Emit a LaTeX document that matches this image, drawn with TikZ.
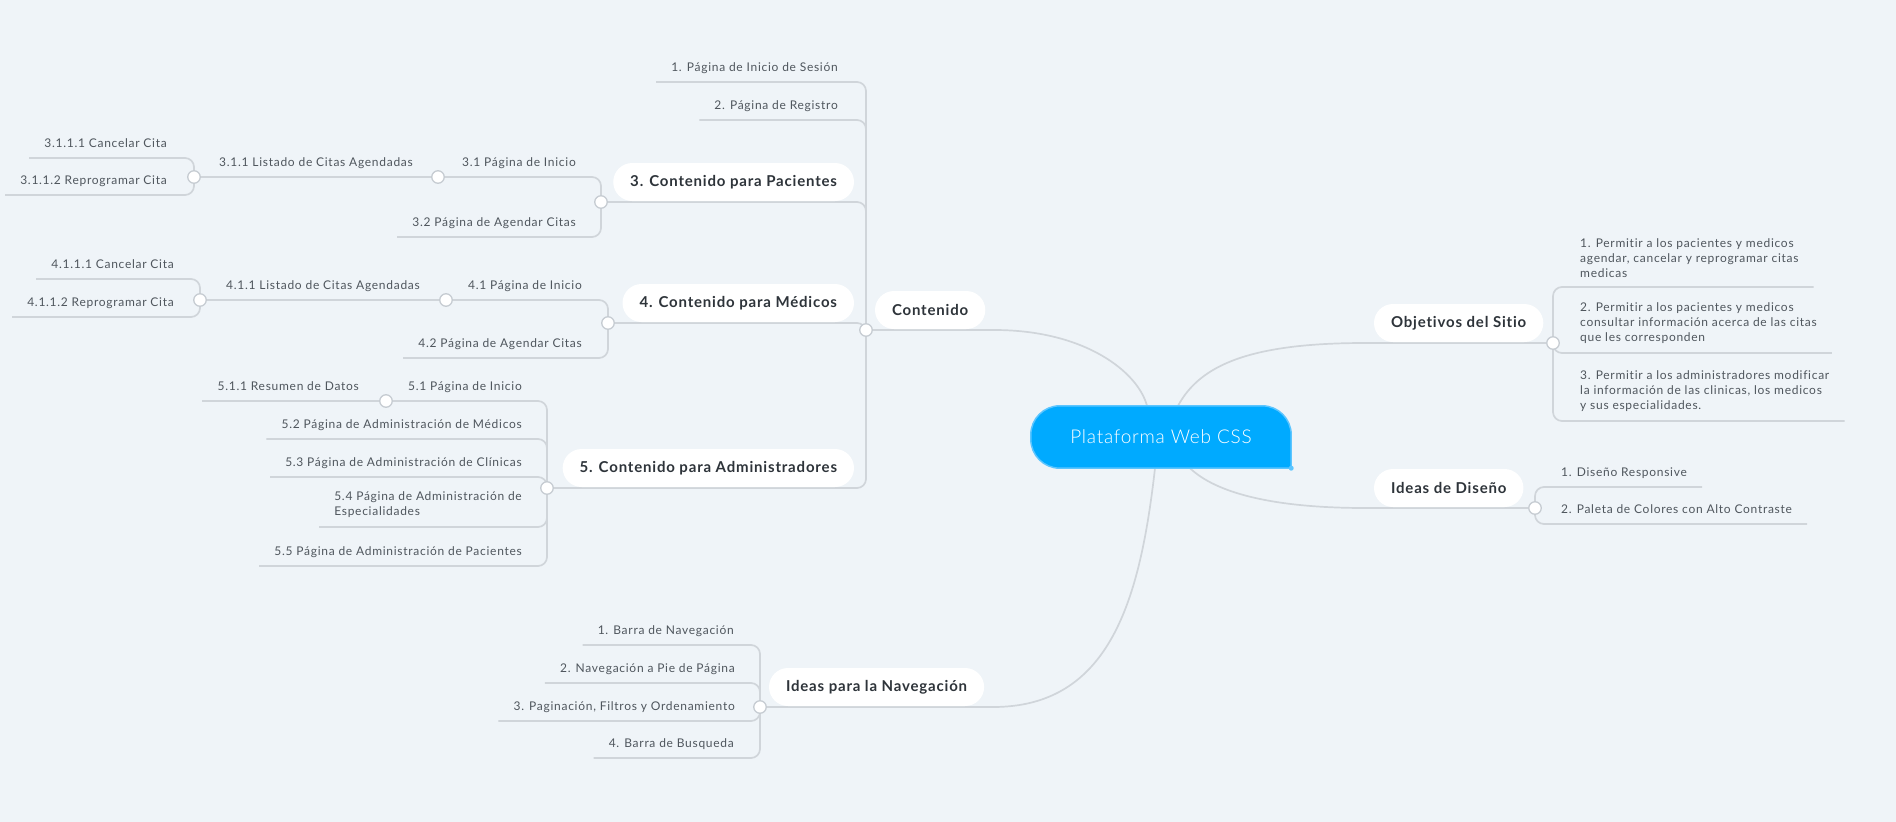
\documentclass[tikz,border=0pt]{standalone}
\usepackage{fontspec}
\setmainfont{Lato}[Ligatures=NoCommon]
\newfontfamily\leaffont{Lato}[LetterSpace=6.0, Ligatures=NoCommon]
\newfontfamily\topicfont{Lato}[LetterSpace=5.5, Ligatures=NoCommon]
\newfontfamily\rootfont{Lato Light}[LetterSpace=4.0, Ligatures=NoCommon]
\usetikzlibrary{positioning}

\definecolor{bgc}{HTML}{EFF4F8}
\definecolor{linec}{HTML}{D0D5DA}
\definecolor{knotc}{HTML}{C6CCD2}
\definecolor{leaftxt}{HTML}{4F565D}
\definecolor{topictxt}{HTML}{2E343A}
\definecolor{rootc}{HTML}{00AAFF}
\definecolor{rootedge}{HTML}{5CC5FF}

\pgfdeclarelayer{back}
\pgfdeclarelayer{lines}
\pgfsetlayers{back,lines,main}

\begin{document}
\begin{tikzpicture}[x=1pt, y=-1pt,
    leaf/.style={font=\leaffont\fontsize{12}{15}\selectfont, text=leaftxt,
      inner xsep=15pt, inner ysep=8pt, text height=8.5pt, text depth=2.5pt},
    leafL/.style={leaf, anchor=south east},
    leafR/.style={leaf, anchor=south west},
    leafblock/.style={font=\leaffont\fontsize{12}{15}\selectfont, text=leaftxt,
      inner xsep=15pt, inner ysep=9pt, align=left},
    topic/.style={font=\topicfont\bfseries\fontsize{15}{17}\selectfont, text=topictxt,
      fill=white, rounded corners=19pt, minimum height=38pt, inner xsep=17pt,
      outer xsep=0pt, outer ysep=1pt},
    knot/.style={circle, draw=knotc, fill=white, line width=1.3pt,
      minimum size=12.5pt, inner sep=0pt},
    link/.style={draw=linec, line width=1.7pt, rounded corners=9pt}]

\useasboundingbox (0,0) rectangle (1896,822);
\begin{pgfonlayer}{back}
  \fill[bgc] (0,0) rectangle (1896,822);
\end{pgfonlayer}

% centro
\node[font=\rootfont\fontsize{19}{20}\selectfont, text=white, minimum width=260pt,
  minimum height=62pt, inner sep=0pt] (root) at (1161,437) {Plataforma Web CSS};

% Contenido
\node[knot] (k0) at (866,330) {};
\node[topic, anchor=south west] (cont) at (875,330) {Contenido};
\node[leafL] (c1) at (853,82) {1. Página de Inicio de Sesión};
\node[leafL] (c2) at (853,120) {2. Página de Registro};
\node[topic, anchor=south east] (pac) at (854,202) {3. Contenido para Pacientes};
\node[topic, anchor=south east] (med) at (854,323) {4. Contenido para Médicos};
\node[topic, anchor=south east] (adm) at (854,488) {5. Contenido para Administradores};

% Pacientes
\node[knot] (kp) at (601,202) {};
\node[leafL] (p1) at (591,177) {3.1 Página de Inicio};
\node[leafL] (p2) at (591,237) {3.2 Página de Agendar Citas};
\node[knot] (kp1) at (438,177) {};
\node[leafL] (p11) at (428,177) {3.1.1 Listado de Citas Agendadas};
\node[knot] (kp11) at (194,177) {};
\node[leafL] (p111) at (182,158) {3.1.1.1 Cancelar Cita};
\node[leafL] (p112) at (182,195) {3.1.1.2 Reprogramar Cita};

% Medicos
\node[knot] (km) at (608,323) {};
\node[leafL] (m1) at (597,300) {4.1 Página de Inicio};
\node[leafL] (m2) at (597,358) {4.2 Página de Agendar Citas};
\node[knot] (km1) at (446,300) {};
\node[leafL] (m11) at (435,300) {4.1.1 Listado de Citas Agendadas};
\node[knot] (km11) at (200,300) {};
\node[leafL] (m111) at (189,279) {4.1.1.1 Cancelar Cita};
\node[leafL] (m112) at (189,317) {4.1.1.2 Reprogramar Cita};

% Administradores
\node[knot] (ka) at (547,488) {};
\node[leafL] (a1) at (537,401) {5.1 Página de Inicio};
\node[leafL] (a2) at (537,439) {5.2 Página de Administración de Médicos};
\node[leafL] (a3) at (537,477) {5.3 Página de Administración de Clínicas};
\node[leafblock, anchor=south east] (a4) at (537,527) {5.4 Página de Administración de\\Especialidades};
\node[leafL] (a5) at (537,566) {5.5 Página de Administración de Pacientes};
\node[knot] (ka1) at (386,401) {};
\node[leafL] (a11) at (374,401) {5.1.1 Resumen de Datos};

% Navegacion
\node[knot] (kn) at (760,707) {};
\node[topic, anchor=south west] (nav) at (769,707) {Ideas para la Navegación};
\node[leafL] (n1) at (749,645) {1. Barra de Navegación};
\node[leafL] (n2) at (750,683) {2. Navegación a Pie de Página};
\node[leafL] (n3) at (750,721) {3. Paginación, Filtros y Ordenamiento};
\node[leafL] (n4) at (749,758) {4. Barra de Busqueda};

% Objetivos
\node[topic, anchor=south west] (obj) at (1374,343) {Objetivos del Sitio};
\node[knot] (ko) at (1553,343) {};
\node[leafblock, anchor=south west] (o1) at (1565,287) {1. Permitir a los pacientes y medicos\\agendar, cancelar y reprogramar citas\\medicas};
\node[leafblock, anchor=south west] (o2) at (1565,353) {2. Permitir a los pacientes y medicos\\consultar información acerca de las citas\\que les corresponden};
\node[leafblock, anchor=south west] (o3) at (1565,421) {3. Permitir a los administradores modificar\\la información de las clinicas, los medicos\\y sus especialidades.};

% Diseno
\node[topic, anchor=south west] (dis) at (1374,508) {Ideas de Diseño};
\node[knot] (kd) at (1535,508) {};
\node[leafR] (d1) at (1546,487) {1. Diseño Responsive};
\node[leafR] (d2) at (1546,524) {2. Paleta de Colores con Alto Contraste};

\begin{pgfonlayer}{lines}
  \draw[link] (c1.south west) -- (k0 |- c1.south) -- (k0);
  \draw[link] (c2.south west) -- (k0 |- c2.south) -- (k0);
  \draw[link] (kp) -- (k0 |- pac.south) -- (k0);
  \draw[link] (km) -- (k0 |- med.south) -- (k0);
  \draw[link] (ka) -- (k0 |- adm.south) -- (k0);
  \draw[link] (k0) -- (cont.south east) .. controls (1085,330) and (1138,372) .. ([xshift=-14pt]root.north);

  \draw[link] (kp1) -- (kp |- p1.south) -- (kp);
  \draw[link] (p2.south west) -- (kp |- p2.south) -- (kp);
  \draw[link] (kp11) -- (kp1);
  \draw[link] (p111.south west) -- (kp11 |- p111.south) -- (kp11);
  \draw[link] (p112.south west) -- (kp11 |- p112.south) -- (kp11);

  \draw[link] (km1) -- (km |- m1.south) -- (km);
  \draw[link] (m2.south west) -- (km |- m2.south) -- (km);
  \draw[link] (km11) -- (km1);
  \draw[link] (m111.south west) -- (km11 |- m111.south) -- (km11);
  \draw[link] (m112.south west) -- (km11 |- m112.south) -- (km11);

  \draw[link] (ka1) -- (ka |- a1.south) -- (ka);
  \draw[link] (a2.south west) -- (ka |- a2.south) -- (ka);
  \draw[link] (a3.south west) -- (ka |- a3.south) -- (ka);
  \draw[link] (a4.south west) -- (ka |- a4.south) -- (ka);
  \draw[link] (a5.south west) -- (ka |- a5.south) -- (ka);
  \draw[link] (a11.south west) -- (ka1);

  \draw[link] (n1.south west) -- (kn |- n1.south) -- (kn);
  \draw[link] (n2.south west) -- (kn |- n2.south) -- (kn);
  \draw[link] (n3.south west) -- (kn |- n3.south) -- (kn);
  \draw[link] (n4.south west) -- (kn |- n4.south) -- (kn);
  \draw[link] (kn) -- (nav.south east) .. controls (1110,707) and (1140,600) .. ([xshift=-6pt]root.south);

  \draw[link] ([xshift=17pt]root.north) .. controls (1200,365) and (1250,343) .. (obj.south west) -- (ko);
  \draw[link] (o1.south east) -- (ko |- o1.south) -- (ko);
  \draw[link] (o2.south east) -- (ko |- o2.south) -- (ko);
  \draw[link] (o3.south east) -- (ko |- o3.south) -- (ko);

  \draw[link] ([xshift=29pt]root.south) .. controls (1215,492) and (1270,508) .. (dis.south west) -- (kd);
  \draw[link] (d1.south east) -- (kd |- d1.south) -- (kd);
  \draw[link] (d2.south east) -- (kd |- d2.south) -- (kd);

  % forma del tema central
  \filldraw[fill=rootc, draw=rootedge, line width=1.5pt, rounded corners=29pt]
    (root.south east) -- (root.south west) -- (root.north west) -- (root.north east) -- (root.south east);
  \fill[rootedge] (root.south east) circle (2.5pt);
\end{pgfonlayer}

\end{tikzpicture}
\end{document}
